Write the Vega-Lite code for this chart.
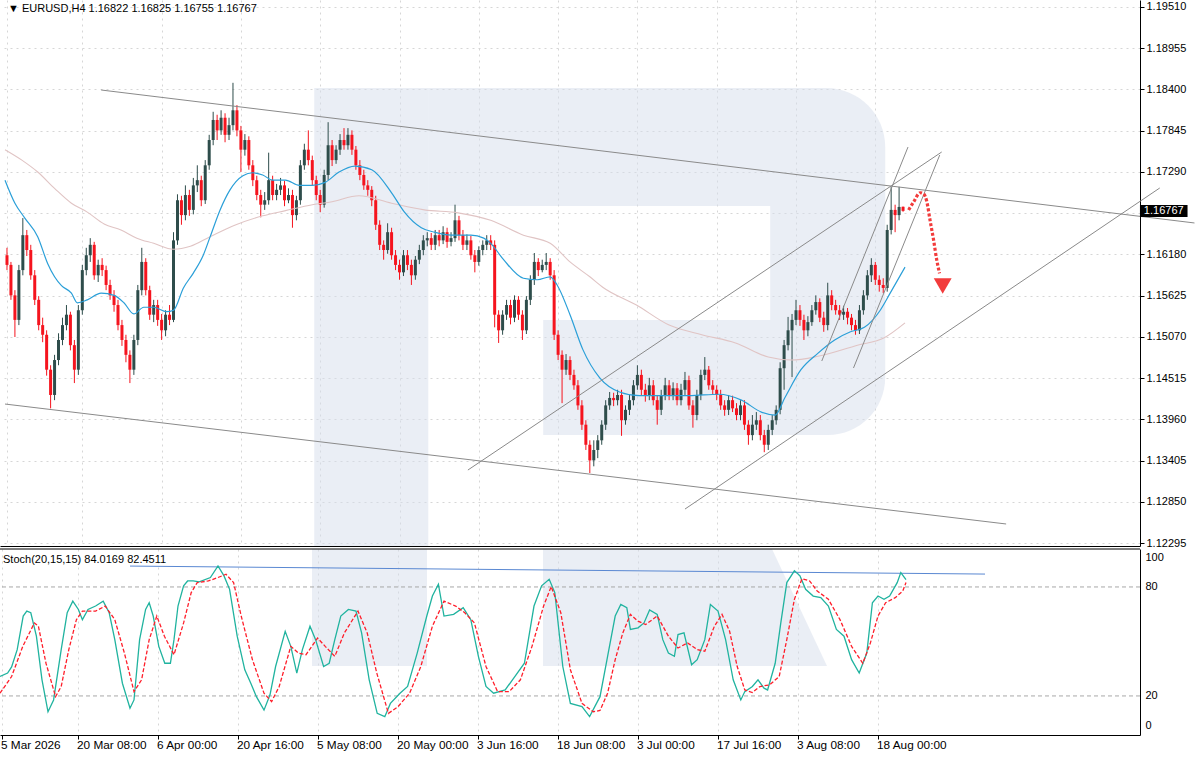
{
"$schema": "https://vega.github.io/schema/vega-lite/v6.json",
"padding": {"left": -3, "top": 0, "right": 0, "bottom": 0},
"background": "white",
"spacing": 3,
"bounds": "flush",
"config": {
  "view": {"stroke": null},
  "axis": {"labelFont": "Liberation Sans", "labelFontSize": 11, "labelColor": "#000000", "domainColor": "#000000", "tickColor": "#000000", "gridColor": "#d6d6d6", "gridDash": [2, 4], "gridWidth": 1}
},
"datasets": {
  "bars": [
{"i":0,"o":1.1617,"h":1.1627,"l":1.1597,"c":1.1604},
{"i":1,"o":1.1604,"h":1.1608,"l":1.1557,"c":1.1563},
{"i":2,"o":1.1563,"h":1.1570,"l":1.1507,"c":1.1530},
{"i":3,"o":1.1530,"h":1.1604,"l":1.1523,"c":1.1597},
{"i":4,"o":1.1597,"h":1.1667,"l":1.1590,"c":1.1644},
{"i":5,"o":1.1644,"h":1.1651,"l":1.1616,"c":1.1624},
{"i":6,"o":1.1624,"h":1.1631,"l":1.1584,"c":1.1590},
{"i":7,"o":1.1590,"h":1.1597,"l":1.1550,"c":1.1557},
{"i":8,"o":1.1557,"h":1.1562,"l":1.1516,"c":1.1523},
{"i":9,"o":1.1523,"h":1.1533,"l":1.1500,"c":1.1510},
{"i":10,"o":1.1510,"h":1.1516,"l":1.1455,"c":1.1463},
{"i":11,"o":1.1463,"h":1.1469,"l":1.1411,"c":1.1429},
{"i":12,"o":1.1429,"h":1.1483,"l":1.1422,"c":1.1476},
{"i":13,"o":1.1476,"h":1.1512,"l":1.1469,"c":1.1503},
{"i":14,"o":1.1503,"h":1.1533,"l":1.1496,"c":1.1523},
{"i":15,"o":1.1523,"h":1.1550,"l":1.1516,"c":1.1537},
{"i":16,"o":1.1537,"h":1.1541,"l":1.1489,"c":1.1496},
{"i":17,"o":1.1496,"h":1.1503,"l":1.1445,"c":1.1463},
{"i":18,"o":1.1463,"h":1.1550,"l":1.1456,"c":1.1543},
{"i":19,"o":1.1543,"h":1.1604,"l":1.1537,"c":1.1597},
{"i":20,"o":1.1597,"h":1.1627,"l":1.1590,"c":1.1617},
{"i":21,"o":1.1617,"h":1.1640,"l":1.1608,"c":1.1631},
{"i":22,"o":1.1631,"h":1.1635,"l":1.1584,"c":1.1590},
{"i":23,"o":1.1590,"h":1.1611,"l":1.1581,"c":1.1604},
{"i":24,"o":1.1604,"h":1.1613,"l":1.1589,"c":1.1597},
{"i":25,"o":1.1597,"h":1.1603,"l":1.1570,"c":1.1577},
{"i":26,"o":1.1577,"h":1.1584,"l":1.1557,"c":1.1563},
{"i":27,"o":1.1563,"h":1.1570,"l":1.1541,"c":1.1550},
{"i":28,"o":1.1550,"h":1.1557,"l":1.1516,"c":1.1523},
{"i":29,"o":1.1523,"h":1.1530,"l":1.1495,"c":1.1503},
{"i":30,"o":1.1503,"h":1.1510,"l":1.1473,"c":1.1483},
{"i":31,"o":1.1483,"h":1.1489,"l":1.1445,"c":1.1463},
{"i":32,"o":1.1463,"h":1.1510,"l":1.1456,"c":1.1503},
{"i":33,"o":1.1503,"h":1.1577,"l":1.1496,"c":1.1570},
{"i":34,"o":1.1570,"h":1.1627,"l":1.1563,"c":1.1608},
{"i":35,"o":1.1608,"h":1.1613,"l":1.1563,"c":1.1570},
{"i":36,"o":1.1570,"h":1.1576,"l":1.1530,"c":1.1537},
{"i":37,"o":1.1537,"h":1.1557,"l":1.1527,"c":1.1550},
{"i":38,"o":1.1550,"h":1.1557,"l":1.1522,"c":1.1530},
{"i":39,"o":1.1530,"h":1.1538,"l":1.1503,"c":1.1516},
{"i":40,"o":1.1516,"h":1.1543,"l":1.1508,"c":1.1537},
{"i":41,"o":1.1537,"h":1.1550,"l":1.1523,"c":1.1530},
{"i":42,"o":1.1530,"h":1.1648,"l":1.1527,"c":1.1637},
{"i":43,"o":1.1637,"h":1.1699,"l":1.1631,"c":1.1691},
{"i":44,"o":1.1691,"h":1.1697,"l":1.1658,"c":1.1671},
{"i":45,"o":1.1671,"h":1.1711,"l":1.1664,"c":1.1698},
{"i":46,"o":1.1698,"h":1.1705,"l":1.1670,"c":1.1678},
{"i":47,"o":1.1678,"h":1.1721,"l":1.1672,"c":1.1711},
{"i":48,"o":1.1711,"h":1.1738,"l":1.1702,"c":1.1718},
{"i":49,"o":1.1718,"h":1.1724,"l":1.1683,"c":1.1691},
{"i":50,"o":1.1691,"h":1.1745,"l":1.1686,"c":1.1738},
{"i":51,"o":1.1738,"h":1.1779,"l":1.1732,"c":1.1772},
{"i":52,"o":1.1772,"h":1.1810,"l":1.1765,"c":1.1799},
{"i":53,"o":1.1799,"h":1.1806,"l":1.1772,"c":1.1785},
{"i":54,"o":1.1785,"h":1.1812,"l":1.1779,"c":1.1802},
{"i":55,"o":1.1802,"h":1.1808,"l":1.1769,"c":1.1779},
{"i":56,"o":1.1779,"h":1.1802,"l":1.1772,"c":1.1792},
{"i":57,"o":1.1792,"h":1.1849,"l":1.1785,"c":1.1812},
{"i":58,"o":1.1812,"h":1.1819,"l":1.1777,"c":1.1785},
{"i":59,"o":1.1785,"h":1.1791,"l":1.1729,"c":1.1759},
{"i":60,"o":1.1759,"h":1.1780,"l":1.1751,"c":1.1772},
{"i":61,"o":1.1772,"h":1.1777,"l":1.1732,"c":1.1738},
{"i":62,"o":1.1738,"h":1.1745,"l":1.1710,"c":1.1718},
{"i":63,"o":1.1718,"h":1.1724,"l":1.1691,"c":1.1698},
{"i":64,"o":1.1698,"h":1.1705,"l":1.1668,"c":1.1685},
{"i":65,"o":1.1685,"h":1.1702,"l":1.1678,"c":1.1691},
{"i":66,"o":1.1691,"h":1.1755,"l":1.1685,"c":1.1718},
{"i":67,"o":1.1718,"h":1.1724,"l":1.1691,"c":1.1698},
{"i":68,"o":1.1698,"h":1.1713,"l":1.1691,"c":1.1705},
{"i":69,"o":1.1705,"h":1.1721,"l":1.1698,"c":1.1711},
{"i":70,"o":1.1711,"h":1.1717,"l":1.1683,"c":1.1691},
{"i":71,"o":1.1691,"h":1.1707,"l":1.1687,"c":1.1698},
{"i":72,"o":1.1698,"h":1.1705,"l":1.1654,"c":1.1671},
{"i":73,"o":1.1671,"h":1.1697,"l":1.1664,"c":1.1691},
{"i":74,"o":1.1691,"h":1.1745,"l":1.1685,"c":1.1738},
{"i":75,"o":1.1738,"h":1.1767,"l":1.1732,"c":1.1759},
{"i":76,"o":1.1759,"h":1.1785,"l":1.1738,"c":1.1745},
{"i":77,"o":1.1745,"h":1.1751,"l":1.1711,"c":1.1718},
{"i":78,"o":1.1718,"h":1.1724,"l":1.1691,"c":1.1698},
{"i":79,"o":1.1698,"h":1.1705,"l":1.1675,"c":1.1685},
{"i":80,"o":1.1685,"h":1.1732,"l":1.1681,"c":1.1725},
{"i":81,"o":1.1725,"h":1.1796,"l":1.1718,"c":1.1765},
{"i":82,"o":1.1765,"h":1.1772,"l":1.1737,"c":1.1745},
{"i":83,"o":1.1745,"h":1.1765,"l":1.1740,"c":1.1759},
{"i":84,"o":1.1759,"h":1.1780,"l":1.1752,"c":1.1772},
{"i":85,"o":1.1772,"h":1.1788,"l":1.1759,"c":1.1765},
{"i":86,"o":1.1765,"h":1.1788,"l":1.1759,"c":1.1779},
{"i":87,"o":1.1779,"h":1.1785,"l":1.1752,"c":1.1759},
{"i":88,"o":1.1759,"h":1.1764,"l":1.1732,"c":1.1738},
{"i":89,"o":1.1738,"h":1.1745,"l":1.1718,"c":1.1725},
{"i":90,"o":1.1725,"h":1.1732,"l":1.1705,"c":1.1711},
{"i":91,"o":1.1711,"h":1.1718,"l":1.1697,"c":1.1705},
{"i":92,"o":1.1705,"h":1.1710,"l":1.1683,"c":1.1691},
{"i":93,"o":1.1691,"h":1.1697,"l":1.1651,"c":1.1658},
{"i":94,"o":1.1658,"h":1.1664,"l":1.1624,"c":1.1631},
{"i":95,"o":1.1631,"h":1.1637,"l":1.1611,"c":1.1624},
{"i":96,"o":1.1624,"h":1.1660,"l":1.1619,"c":1.1648},
{"i":97,"o":1.1648,"h":1.1654,"l":1.1611,"c":1.1617},
{"i":98,"o":1.1617,"h":1.1624,"l":1.1597,"c":1.1604},
{"i":99,"o":1.1604,"h":1.1611,"l":1.1584,"c":1.1594},
{"i":100,"o":1.1594,"h":1.1624,"l":1.1589,"c":1.1617},
{"i":101,"o":1.1617,"h":1.1624,"l":1.1597,"c":1.1604},
{"i":102,"o":1.1604,"h":1.1611,"l":1.1577,"c":1.1590},
{"i":103,"o":1.1590,"h":1.1616,"l":1.1584,"c":1.1611},
{"i":104,"o":1.1611,"h":1.1631,"l":1.1605,"c":1.1624},
{"i":105,"o":1.1624,"h":1.1644,"l":1.1617,"c":1.1637},
{"i":106,"o":1.1637,"h":1.1648,"l":1.1629,"c":1.1640},
{"i":107,"o":1.1640,"h":1.1647,"l":1.1624,"c":1.1631},
{"i":108,"o":1.1631,"h":1.1651,"l":1.1624,"c":1.1644},
{"i":109,"o":1.1644,"h":1.1651,"l":1.1629,"c":1.1637},
{"i":110,"o":1.1637,"h":1.1656,"l":1.1632,"c":1.1648},
{"i":111,"o":1.1648,"h":1.1654,"l":1.1627,"c":1.1635},
{"i":112,"o":1.1635,"h":1.1648,"l":1.1629,"c":1.1640},
{"i":113,"o":1.1640,"h":1.1685,"l":1.1635,"c":1.1664},
{"i":114,"o":1.1664,"h":1.1670,"l":1.1637,"c":1.1644},
{"i":115,"o":1.1644,"h":1.1651,"l":1.1624,"c":1.1631},
{"i":116,"o":1.1631,"h":1.1645,"l":1.1624,"c":1.1637},
{"i":117,"o":1.1637,"h":1.1643,"l":1.1611,"c":1.1617},
{"i":118,"o":1.1617,"h":1.1624,"l":1.1594,"c":1.1608},
{"i":119,"o":1.1608,"h":1.1629,"l":1.1603,"c":1.1624},
{"i":120,"o":1.1624,"h":1.1637,"l":1.1617,"c":1.1631},
{"i":121,"o":1.1631,"h":1.1644,"l":1.1624,"c":1.1637},
{"i":122,"o":1.1637,"h":1.1644,"l":1.1624,"c":1.1631},
{"i":123,"o":1.1631,"h":1.1637,"l":1.1520,"c":1.1537},
{"i":124,"o":1.1537,"h":1.1543,"l":1.1499,"c":1.1516},
{"i":125,"o":1.1516,"h":1.1543,"l":1.1510,"c":1.1537},
{"i":126,"o":1.1537,"h":1.1557,"l":1.1530,"c":1.1550},
{"i":127,"o":1.1550,"h":1.1557,"l":1.1524,"c":1.1533},
{"i":128,"o":1.1533,"h":1.1563,"l":1.1527,"c":1.1557},
{"i":129,"o":1.1557,"h":1.1562,"l":1.1530,"c":1.1537},
{"i":130,"o":1.1537,"h":1.1543,"l":1.1503,"c":1.1516},
{"i":131,"o":1.1516,"h":1.1562,"l":1.1511,"c":1.1557},
{"i":132,"o":1.1557,"h":1.1590,"l":1.1550,"c":1.1584},
{"i":133,"o":1.1584,"h":1.1620,"l":1.1577,"c":1.1608},
{"i":134,"o":1.1608,"h":1.1613,"l":1.1589,"c":1.1597},
{"i":135,"o":1.1597,"h":1.1611,"l":1.1594,"c":1.1604},
{"i":136,"o":1.1604,"h":1.1620,"l":1.1597,"c":1.1608},
{"i":137,"o":1.1608,"h":1.1613,"l":1.1584,"c":1.1590},
{"i":138,"o":1.1590,"h":1.1597,"l":1.1503,"c":1.1510},
{"i":139,"o":1.1510,"h":1.1516,"l":1.1476,"c":1.1483},
{"i":140,"o":1.1483,"h":1.1489,"l":1.1418,"c":1.1463},
{"i":141,"o":1.1463,"h":1.1484,"l":1.1456,"c":1.1476},
{"i":142,"o":1.1476,"h":1.1481,"l":1.1449,"c":1.1456},
{"i":143,"o":1.1456,"h":1.1463,"l":1.1436,"c":1.1442},
{"i":144,"o":1.1442,"h":1.1449,"l":1.1409,"c":1.1415},
{"i":145,"o":1.1415,"h":1.1422,"l":1.1382,"c":1.1389},
{"i":146,"o":1.1389,"h":1.1395,"l":1.1355,"c":1.1362},
{"i":147,"o":1.1362,"h":1.1368,"l":1.1324,"c":1.1341},
{"i":148,"o":1.1341,"h":1.1368,"l":1.1333,"c":1.1355},
{"i":149,"o":1.1355,"h":1.1375,"l":1.1344,"c":1.1368},
{"i":150,"o":1.1368,"h":1.1395,"l":1.1362,"c":1.1389},
{"i":151,"o":1.1389,"h":1.1422,"l":1.1382,"c":1.1415},
{"i":152,"o":1.1415,"h":1.1433,"l":1.1409,"c":1.1425},
{"i":153,"o":1.1425,"h":1.1432,"l":1.1414,"c":1.1422},
{"i":154,"o":1.1422,"h":1.1436,"l":1.1415,"c":1.1429},
{"i":155,"o":1.1429,"h":1.1436,"l":1.1374,"c":1.1395},
{"i":156,"o":1.1395,"h":1.1415,"l":1.1389,"c":1.1409},
{"i":157,"o":1.1409,"h":1.1429,"l":1.1402,"c":1.1422},
{"i":158,"o":1.1422,"h":1.1449,"l":1.1415,"c":1.1442},
{"i":159,"o":1.1442,"h":1.1469,"l":1.1436,"c":1.1456},
{"i":160,"o":1.1456,"h":1.1463,"l":1.1429,"c":1.1436},
{"i":161,"o":1.1436,"h":1.1444,"l":1.1420,"c":1.1429},
{"i":162,"o":1.1429,"h":1.1452,"l":1.1422,"c":1.1442},
{"i":163,"o":1.1442,"h":1.1449,"l":1.1415,"c":1.1422},
{"i":164,"o":1.1422,"h":1.1429,"l":1.1389,"c":1.1409},
{"i":165,"o":1.1409,"h":1.1436,"l":1.1402,"c":1.1429},
{"i":166,"o":1.1429,"h":1.1452,"l":1.1422,"c":1.1442},
{"i":167,"o":1.1442,"h":1.1449,"l":1.1422,"c":1.1429},
{"i":168,"o":1.1429,"h":1.1446,"l":1.1422,"c":1.1438},
{"i":169,"o":1.1438,"h":1.1445,"l":1.1415,"c":1.1422},
{"i":170,"o":1.1422,"h":1.1444,"l":1.1415,"c":1.1436},
{"i":171,"o":1.1436,"h":1.1460,"l":1.1429,"c":1.1449},
{"i":172,"o":1.1449,"h":1.1455,"l":1.1409,"c":1.1415},
{"i":173,"o":1.1415,"h":1.1422,"l":1.1385,"c":1.1402},
{"i":174,"o":1.1402,"h":1.1436,"l":1.1395,"c":1.1429},
{"i":175,"o":1.1429,"h":1.1463,"l":1.1422,"c":1.1456},
{"i":176,"o":1.1456,"h":1.1480,"l":1.1449,"c":1.1463},
{"i":177,"o":1.1463,"h":1.1468,"l":1.1436,"c":1.1442},
{"i":178,"o":1.1442,"h":1.1449,"l":1.1429,"c":1.1436},
{"i":179,"o":1.1436,"h":1.1442,"l":1.1422,"c":1.1429},
{"i":180,"o":1.1429,"h":1.1436,"l":1.1409,"c":1.1415},
{"i":181,"o":1.1415,"h":1.1422,"l":1.1401,"c":1.1409},
{"i":182,"o":1.1409,"h":1.1429,"l":1.1402,"c":1.1422},
{"i":183,"o":1.1422,"h":1.1428,"l":1.1406,"c":1.1411},
{"i":184,"o":1.1411,"h":1.1418,"l":1.1395,"c":1.1402},
{"i":185,"o":1.1402,"h":1.1422,"l":1.1395,"c":1.1415},
{"i":186,"o":1.1415,"h":1.1422,"l":1.1382,"c":1.1389},
{"i":187,"o":1.1389,"h":1.1395,"l":1.1362,"c":1.1375},
{"i":188,"o":1.1375,"h":1.1402,"l":1.1368,"c":1.1389},
{"i":189,"o":1.1389,"h":1.1406,"l":1.1382,"c":1.1395},
{"i":190,"o":1.1395,"h":1.1402,"l":1.1368,"c":1.1375},
{"i":191,"o":1.1375,"h":1.1382,"l":1.1352,"c":1.1362},
{"i":192,"o":1.1362,"h":1.1389,"l":1.1355,"c":1.1382},
{"i":193,"o":1.1382,"h":1.1402,"l":1.1375,"c":1.1395},
{"i":194,"o":1.1395,"h":1.1415,"l":1.1389,"c":1.1409},
{"i":195,"o":1.1409,"h":1.1473,"l":1.1403,"c":1.1465},
{"i":196,"o":1.1465,"h":1.1503,"l":1.1436,"c":1.1496},
{"i":197,"o":1.1496,"h":1.1534,"l":1.1489,"c":1.1516},
{"i":198,"o":1.1516,"h":1.1538,"l":1.1453,"c":1.1530},
{"i":199,"o":1.1530,"h":1.1557,"l":1.1523,"c":1.1543},
{"i":200,"o":1.1543,"h":1.1550,"l":1.1522,"c":1.1530},
{"i":201,"o":1.1530,"h":1.1537,"l":1.1503,"c":1.1516},
{"i":202,"o":1.1516,"h":1.1535,"l":1.1508,"c":1.1527},
{"i":203,"o":1.1527,"h":1.1550,"l":1.1522,"c":1.1543},
{"i":204,"o":1.1543,"h":1.1563,"l":1.1537,"c":1.1554},
{"i":205,"o":1.1554,"h":1.1559,"l":1.1527,"c":1.1533},
{"i":206,"o":1.1533,"h":1.1541,"l":1.1514,"c":1.1523},
{"i":207,"o":1.1523,"h":1.1580,"l":1.1516,"c":1.1563},
{"i":208,"o":1.1563,"h":1.1570,"l":1.1543,"c":1.1550},
{"i":209,"o":1.1550,"h":1.1557,"l":1.1537,"c":1.1543},
{"i":210,"o":1.1543,"h":1.1550,"l":1.1530,"c":1.1537},
{"i":211,"o":1.1537,"h":1.1549,"l":1.1530,"c":1.1541},
{"i":212,"o":1.1541,"h":1.1546,"l":1.1524,"c":1.1533},
{"i":213,"o":1.1533,"h":1.1538,"l":1.1516,"c":1.1523},
{"i":214,"o":1.1523,"h":1.1530,"l":1.1510,"c":1.1516},
{"i":215,"o":1.1516,"h":1.1550,"l":1.1511,"c":1.1543},
{"i":216,"o":1.1543,"h":1.1570,"l":1.1537,"c":1.1563},
{"i":217,"o":1.1563,"h":1.1597,"l":1.1557,"c":1.1590},
{"i":218,"o":1.1590,"h":1.1613,"l":1.1581,"c":1.1604},
{"i":219,"o":1.1604,"h":1.1608,"l":1.1577,"c":1.1584},
{"i":220,"o":1.1584,"h":1.1590,"l":1.1568,"c":1.1577},
{"i":221,"o":1.1577,"h":1.1586,"l":1.1566,"c":1.1573},
{"i":222,"o":1.1573,"h":1.1658,"l":1.1568,"c":1.1651},
{"i":223,"o":1.1651,"h":1.1709,"l":1.1645,"c":1.1678},
{"i":224,"o":1.1678,"h":1.1685,"l":1.1648,"c":1.1671},
{"i":225,"o":1.1671,"h":1.1709,"l":1.1664,"c":1.1682},
{"i":226,"o":1.16822,"h":1.16825,"l":1.16755,"c":1.16767}
  ],
  "ma50": [
{"i":-0.5,"p":1.1718},{"i":2,"p":1.1687},{"i":4.5,"p":1.1667},{"i":7.75,"p":1.1642},{"i":10.25,"p":1.1606},{"i":12,"p":1.1588},{"i":13.75,"p":1.1576},{"i":16.25,"p":1.1566},{"i":17.75,"p":1.1553},{"i":20.25,"p":1.1557},{"i":23.75,"p":1.1566},{"i":27,"p":1.1563},{"i":29.5,"p":1.1553},{"i":32,"p":1.1538},{"i":34.5,"p":1.1547},{"i":37,"p":1.1547},{"i":40.25,"p":1.1541},{"i":42,"p":1.1543},{"i":44.5,"p":1.1573},{"i":47,"p":1.1593},{"i":49.5,"p":1.1617},{"i":51.25,"p":1.1642},{"i":53.75,"p":1.1678},{"i":56.25,"p":1.1705},{"i":59.5,"p":1.1724},{"i":62,"p":1.1728},{"i":64.5,"p":1.1725},{"i":67,"p":1.1718},{"i":70.25,"p":1.1718},{"i":73.75,"p":1.1711},{"i":77,"p":1.1711},{"i":80.25,"p":1.1715},{"i":83.75,"p":1.1729},{"i":87.75,"p":1.1737},{"i":92,"p":1.1732},{"i":97,"p":1.1701},{"i":100.25,"p":1.1675},{"i":104.5,"p":1.1654},{"i":107.75,"p":1.1648},{"i":112,"p":1.1644},{"i":117,"p":1.1644},{"i":120.25,"p":1.1640},{"i":122,"p":1.1633},{"i":125.25,"p":1.1611},{"i":130.25,"p":1.1586},{"i":133.75,"p":1.1584},{"i":137,"p":1.1588},{"i":138.75,"p":1.1577},{"i":142,"p":1.1537},{"i":145.25,"p":1.1490},{"i":149.5,"p":1.1452},{"i":154.5,"p":1.1433},{"i":159.5,"p":1.1428},{"i":164.5,"p":1.1428},{"i":172,"p":1.1428},{"i":179.5,"p":1.1430},{"i":185.25,"p":1.1422},{"i":190.25,"p":1.1406},{"i":193.75,"p":1.1402},{"i":196.25,"p":1.1426},{"i":200.25,"p":1.1463},{"i":204.5,"p":1.1485},{"i":208.75,"p":1.1503},{"i":212.75,"p":1.1514},{"i":216.25,"p":1.1520},{"i":220.25,"p":1.1543},{"i":222.75,"p":1.1566},{"i":226.5,"p":1.1601}
  ],
  "ma200": [
{"i":-0.5,"p":1.1759},{"i":3.75,"p":1.1745},{"i":7.75,"p":1.1729},{"i":12,"p":1.1707},{"i":16.25,"p":1.1687},{"i":20.25,"p":1.1675},{"i":24.5,"p":1.1659},{"i":28.75,"p":1.1651},{"i":32.75,"p":1.1640},{"i":37,"p":1.1633},{"i":42,"p":1.1625},{"i":46.25,"p":1.1629},{"i":51.25,"p":1.1642},{"i":57.75,"p":1.1658},{"i":64.5,"p":1.1670},{"i":70.25,"p":1.1677},{"i":77,"p":1.1685},{"i":82,"p":1.1689},{"i":88.75,"p":1.1697},{"i":97,"p":1.1687},{"i":105.25,"p":1.1678},{"i":113.75,"p":1.1674},{"i":122,"p":1.1664},{"i":130.25,"p":1.1644},{"i":137,"p":1.1633},{"i":142,"p":1.1608},{"i":147,"p":1.1588},{"i":150.25,"p":1.1574},{"i":158.75,"p":1.1550},{"i":167,"p":1.1523},{"i":175.25,"p":1.1510},{"i":183.75,"p":1.1499},{"i":192,"p":1.1480},{"i":197.75,"p":1.1476},{"i":204.5,"p":1.1481},{"i":214.5,"p":1.1496},{"i":221.25,"p":1.1506},{"i":226.5,"p":1.1526}
  ],
  "trend": [
{"i":23.75,"p":1.18393,"i2":299.5,"p2":1.16604},
{"i":-0.5,"p":1.14168,"i2":252,"p2":1.12554},
{"i":171,"p":1.12755,"i2":290.75,"p2":1.17075},
{"i":116.25,"p":1.1328,"i2":235.75,"p2":1.17559},
{"i":205.5,"p":1.14747,"i2":227.25,"p2":1.17626},
{"i":213.5,"p":1.14653,"i2":235.25,"p2":1.17518}
  ],
  "arrow": [
{"i":227.4,"p":1.16778},{"i":228.7,"p":1.1689},{"i":230.3,"p":1.17011},{"i":231.2,"p":1.16994},{"i":232,"p":1.1689},{"i":232.8,"p":1.16644},{"i":233.7,"p":1.16375},{"i":234.5,"p":1.16106},{"i":235.2,"p":1.15927}
  ],
  "stochK": [
{"i":-0.5,"v":30.7},{"i":1.4,"v":32.6},{"i":2.4,"v":36},{"i":3.8,"v":45.5},{"i":5.3,"v":64},{"i":6.2,"v":66.7},{"i":7.2,"v":65.8},{"i":8.6,"v":52.9},{"i":10,"v":28.9},{"i":11.5,"v":11.3},{"i":12.9,"v":17.8},{"i":14.8,"v":45.5},{"i":16.3,"v":65.8},{"i":17.7,"v":72.2},{"i":19.1,"v":67.6},{"i":20.1,"v":62},{"i":21.5,"v":67.6},{"i":23.4,"v":69.5},{"i":25.3,"v":72.2},{"i":26.8,"v":65.8},{"i":28.2,"v":51},{"i":30.1,"v":27},{"i":32,"v":13.2},{"i":33,"v":17.8},{"i":34.4,"v":51},{"i":35.9,"v":67.6},{"i":36.8,"v":71.3},{"i":37.8,"v":64},{"i":39.2,"v":47.3},{"i":40.7,"v":38},{"i":42.1,"v":38},{"i":43,"v":51},{"i":44,"v":69.5},{"i":45.4,"v":80.6},{"i":46.4,"v":83.3},{"i":47.8,"v":83.3},{"i":49.3,"v":82.8},{"i":52.1,"v":85.2},{"i":54,"v":91.6},{"i":55.5,"v":86.1},{"i":56.9,"v":78.7},{"i":58.8,"v":52.9},{"i":60.7,"v":34.4},{"i":62.2,"v":27},{"i":63.6,"v":19.6},{"i":65.5,"v":12.2},{"i":67,"v":20.6},{"i":68.4,"v":36.2},{"i":70.8,"v":55.6},{"i":72.2,"v":47.3},{"i":73.7,"v":32.6},{"i":75.1,"v":45.5},{"i":77,"v":58.4},{"i":78.4,"v":51},{"i":80.4,"v":36.2},{"i":81.8,"v":38},{"i":83.2,"v":51},{"i":84.7,"v":64},{"i":86.6,"v":67.6},{"i":88.5,"v":66.7},{"i":89.9,"v":54.7},{"i":91.8,"v":28.9},{"i":93.8,"v":10.4},{"i":95.7,"v":8.6},{"i":97.1,"v":15.9},{"i":99.5,"v":21.5},{"i":101.4,"v":25.2},{"i":103.8,"v":43.6},{"i":106.2,"v":64},{"i":107.6,"v":75},{"i":109.1,"v":81.5},{"i":110.5,"v":64},{"i":112.9,"v":64.9},{"i":115.3,"v":68.6},{"i":117.2,"v":62},{"i":119.1,"v":41.8},{"i":121,"v":25.2},{"i":122.9,"v":21.5},{"i":125.8,"v":23.3},{"i":128.2,"v":30.7},{"i":130.6,"v":38},{"i":133,"v":69.5},{"i":134.9,"v":80.6},{"i":136.8,"v":84.2},{"i":138.2,"v":76.9},{"i":140.2,"v":36.2},{"i":142.1,"v":15.9},{"i":145,"v":14.1},{"i":146.9,"v":8.6},{"i":149.5,"v":19.6},{"i":151.4,"v":41.8},{"i":153.3,"v":64},{"i":154.7,"v":70.4},{"i":156.2,"v":68.6},{"i":157.1,"v":56.6},{"i":159,"v":57.5},{"i":160.5,"v":60.2},{"i":161.9,"v":67.3},{"i":163.8,"v":64.9},{"i":165.2,"v":51},{"i":166.6,"v":43.6},{"i":168.1,"v":41.8},{"i":169,"v":53.8},{"i":170.5,"v":54.7},{"i":172.4,"v":37.2},{"i":173.8,"v":40},{"i":175.7,"v":51},{"i":177.1,"v":70.4},{"i":179,"v":66.7},{"i":180.9,"v":51},{"i":182.8,"v":28.9},{"i":184.7,"v":17.8},{"i":185.7,"v":22.4},{"i":187.6,"v":25.2},{"i":189,"v":28.9},{"i":190.5,"v":24.3},{"i":191.4,"v":23.3},{"i":193.3,"v":38},{"i":194.7,"v":60.2},{"i":196.2,"v":82.4},{"i":198.1,"v":88.9},{"i":199.5,"v":86.1},{"i":200.9,"v":78.7},{"i":202.8,"v":75},{"i":204.7,"v":74.1},{"i":206.6,"v":69.5},{"i":208.6,"v":56.6},{"i":210.5,"v":52.9},{"i":212.4,"v":40},{"i":214.3,"v":32.6},{"i":216.2,"v":43.6},{"i":217.6,"v":71.3},{"i":219,"v":75},{"i":220.5,"v":73.2},{"i":221.9,"v":75},{"i":223.8,"v":82.4},{"i":224.7,"v":87.9},{"i":226,"v":84.02}
  ],
  "stochD": [
{"i":-0.5,"v":21.5},{"i":2.4,"v":30.7},{"i":5.2,"v":47.3},{"i":8.1,"v":60.2},{"i":9.1,"v":58.4},{"i":11,"v":38},{"i":13.4,"v":19.6},{"i":14.8,"v":25.2},{"i":16.7,"v":45.5},{"i":18.6,"v":62},{"i":20.1,"v":66.7},{"i":23.4,"v":66.7},{"i":25.8,"v":69.5},{"i":28.2,"v":62},{"i":30.6,"v":43.6},{"i":33,"v":22.4},{"i":34.9,"v":28.9},{"i":36.8,"v":51},{"i":38.7,"v":64},{"i":40.6,"v":52.9},{"i":43,"v":42.7},{"i":45.4,"v":60.2},{"i":47.3,"v":76.9},{"i":48.8,"v":82.4},{"i":51.6,"v":83.3},{"i":54,"v":85.2},{"i":56,"v":87},{"i":57.9,"v":82.4},{"i":59.8,"v":64},{"i":62.6,"v":40},{"i":65.5,"v":21.5},{"i":67.4,"v":16.9},{"i":69.3,"v":25.2},{"i":72.2,"v":47.3},{"i":74.1,"v":43.6},{"i":76,"v":42.7},{"i":78.9,"v":51.9},{"i":80.8,"v":47.3},{"i":83.2,"v":41.8},{"i":85.6,"v":54.7},{"i":89,"v":66.7},{"i":91.3,"v":54.7},{"i":93.7,"v":32.6},{"i":96.6,"v":10.4},{"i":99,"v":14.1},{"i":101.9,"v":21.5},{"i":104.7,"v":36.2},{"i":107.6,"v":58.4},{"i":110.5,"v":72.2},{"i":113.4,"v":69.5},{"i":115.7,"v":65.8},{"i":118.1,"v":60.2},{"i":121,"v":36.2},{"i":123.9,"v":22.4},{"i":126.8,"v":22.4},{"i":129.6,"v":28.9},{"i":132.5,"v":47.3},{"i":135.4,"v":69.5},{"i":137.3,"v":80.2},{"i":139.7,"v":65.8},{"i":142.1,"v":34.4},{"i":145,"v":15.9},{"i":147.8,"v":11.3},{"i":149.5,"v":12},{"i":151.4,"v":21.5},{"i":153.3,"v":40},{"i":155.2,"v":54.7},{"i":157.1,"v":64.9},{"i":159,"v":61.2},{"i":160.9,"v":59.3},{"i":163.8,"v":64},{"i":166.6,"v":52.9},{"i":169,"v":46.4},{"i":171.4,"v":49.2},{"i":173.8,"v":45.5},{"i":175.7,"v":44.6},{"i":178.1,"v":58.4},{"i":180,"v":64.9},{"i":181.9,"v":55.6},{"i":183.8,"v":36.2},{"i":185.7,"v":23.3},{"i":187.6,"v":21.9},{"i":189.5,"v":25.2},{"i":191.9,"v":26.1},{"i":194.3,"v":30.7},{"i":196.2,"v":51},{"i":198.1,"v":73.2},{"i":200,"v":84.6},{"i":201.9,"v":83.3},{"i":203.8,"v":77.8},{"i":206.6,"v":73.2},{"i":209.5,"v":62},{"i":212.4,"v":47.3},{"i":215.2,"v":38},{"i":217.1,"v":49.2},{"i":219,"v":64},{"i":220.9,"v":71.3},{"i":223.3,"v":74.1},{"i":225.2,"v":77.8},{"i":226,"v":82.45}
  ],
  "levels": [{"lvl": 80}, {"lvl": 20}]
},
"vconcat": [
 {
  "width": 1140,
  "height": 546,
  "layer": [
   {
    "data": {"values": [{}]},
    "mark": {"type": "rect", "color": "#d5ddeb", "opacity": 0.5},
    "encoding": {
      "x": {"datum": 77.5, "type": "quantitative", "title": null, "scale": {"domain": [-0.5, 284.5], "nice": false, "zero": false},
        "axis": {"orient": "bottom", "values": [0, 19, 39, 59, 79, 99, 119, 139, 159, 179, 199, 219], "labels": false, "ticks": false, "domain": true, "grid": true, "title": null}},
      "x2": {"datum": 106.25},
      "y": {"datum": 1.1842, "type": "quantitative", "title": null, "scale": {"domain": [1.12258, 1.19604], "nice": false, "zero": false},
        "axis": {"orient": "right", "values": [1.12295, 1.1285, 1.13405, 1.1396, 1.14515, 1.1507, 1.15625, 1.1618, 1.16735, 1.1729, 1.17845, 1.184, 1.18955, 1.1951], "labelExpr": "abs(datum.value - 1.16735) < 0.00001 ? '' : format(datum.value, '.5f')", "tickSize": 4, "labelPadding": 2, "grid": true, "domain": true, "labelOverlap": false, "labelFlush": false, "title": null}},
      "y2": {"datum": 1.12258}
    }
   },
   {
    "data": {"values": [{}]},
    "mark": {"type": "rect", "color": "#d5ddeb", "opacity": 0.5, "cornerRadiusTopRight": 105},
    "encoding": {
      "x": {"datum": 106.25, "type": "quantitative", "scale": {"domain": [-0.5, 284.5], "nice": false, "zero": false}},
      "x2": {"datum": 221.5},
      "y": {"datum": 1.1842, "type": "quantitative", "scale": {"domain": [1.12258, 1.19604], "nice": false, "zero": false}},
      "y2": {"datum": 1.16832}
    }
   },
   {
    "data": {"values": [{}]},
    "mark": {"type": "rect", "color": "#d5ddeb", "opacity": 0.5},
    "encoding": {
      "x": {"datum": 192.5, "type": "quantitative", "scale": {"domain": [-0.5, 284.5], "nice": false, "zero": false}},
      "x2": {"datum": 221.5},
      "y": {"datum": 1.16832, "type": "quantitative", "scale": {"domain": [1.12258, 1.19604], "nice": false, "zero": false}},
      "y2": {"datum": 1.15298}
    }
   },
   {
    "data": {"values": [{}]},
    "mark": {"type": "rect", "color": "#d5ddeb", "opacity": 0.5, "cornerRadiusBottomRight": 105},
    "encoding": {
      "x": {"datum": 135.25, "type": "quantitative", "scale": {"domain": [-0.5, 284.5], "nice": false, "zero": false}},
      "x2": {"datum": 221.5},
      "y": {"datum": 1.15298, "type": "quantitative", "scale": {"domain": [1.12258, 1.19604], "nice": false, "zero": false}},
      "y2": {"datum": 1.13751}
    }
   },
   {
    "data": {"name": "bars"},
    "mark": {"type": "rule", "strokeWidth": 1},
    "encoding": {
      "x": {"field": "i", "type": "quantitative", "title": null, "scale": {"domain": [-0.5, 284.5], "nice": false, "zero": false}},
      "y": {"field": "l", "type": "quantitative", "title": null, "scale": {"domain": [1.12258, 1.19604], "nice": false, "zero": false}},
      "y2": {"field": "h"},
      "color": {"condition": {"test": "datum.c >= datum.o", "value": "#2e4d4b"}, "value": "#f5141e"}
    }
   },
   {
    "data": {"name": "bars"},
    "mark": {"type": "bar", "width": 3},
    "encoding": {
      "x": {"field": "i", "type": "quantitative", "title": null, "scale": {"domain": [-0.5, 284.5], "nice": false, "zero": false}},
      "y": {"field": "o", "type": "quantitative", "title": null, "scale": {"domain": [1.12258, 1.19604], "nice": false, "zero": false}},
      "y2": {"field": "c"},
      "color": {"condition": {"test": "datum.c >= datum.o", "value": "#2e4d4b"}, "value": "#f5141e"}
    }
   },
   {
    "data": {"name": "ma200"},
    "mark": {"type": "line", "color": "#e0c4c4", "strokeWidth": 1.1, "interpolate": "monotone"},
    "encoding": {
      "x": {"field": "i", "type": "quantitative", "title": null, "scale": {"domain": [-0.5, 284.5], "nice": false, "zero": false}},
      "y": {"field": "p", "type": "quantitative", "title": null, "scale": {"domain": [1.12258, 1.19604], "nice": false, "zero": false}}
    }
   },
   {
    "data": {"name": "ma50"},
    "mark": {"type": "line", "color": "#2a9fd8", "strokeWidth": 1.2, "interpolate": "monotone"},
    "encoding": {
      "x": {"field": "i", "type": "quantitative", "title": null, "scale": {"domain": [-0.5, 284.5], "nice": false, "zero": false}},
      "y": {"field": "p", "type": "quantitative", "title": null, "scale": {"domain": [1.12258, 1.19604], "nice": false, "zero": false}}
    }
   },
   {
    "data": {"name": "trend"},
    "mark": {"type": "rule", "color": "#8a8a8a", "strokeWidth": 1},
    "encoding": {
      "x": {"field": "i", "type": "quantitative", "title": null, "scale": {"domain": [-0.5, 284.5], "nice": false, "zero": false}},
      "x2": {"field": "i2"},
      "y": {"field": "p", "type": "quantitative", "title": null, "scale": {"domain": [1.12258, 1.19604], "nice": false, "zero": false}},
      "y2": {"field": "p2"}
    }
   },
   {
    "data": {"name": "arrow"},
    "mark": {"type": "line", "color": "#f23b3b", "strokeWidth": 3.2, "strokeDash": [3, 2], "interpolate": "monotone"},
    "encoding": {
      "x": {"field": "i", "type": "quantitative", "title": null, "scale": {"domain": [-0.5, 284.5], "nice": false, "zero": false}},
      "y": {"field": "p", "type": "quantitative", "title": null, "scale": {"domain": [1.12258, 1.19604], "nice": false, "zero": false}}
    }
   },
   {
    "data": {"values": [{}]},
    "mark": {"type": "point", "shape": "triangle-down", "filled": true, "size": 320, "color": "#f23b3b", "opacity": 1},
    "encoding": {
      "x": {"datum": 236, "type": "quantitative", "scale": {"domain": [-0.5, 284.5], "nice": false, "zero": false}},
      "y": {"datum": 1.15756, "type": "quantitative", "scale": {"domain": [1.12258, 1.19604], "nice": false, "zero": false}}
    }
   },
   {
    "data": {"values": [{}]},
    "mark": {"type": "rect", "color": "#000000"},
    "encoding": {
      "x": {"datum": 285.75, "type": "quantitative", "scale": {"domain": [-0.5, 284.5], "nice": false, "zero": false}},
      "x2": {"datum": 297.75},
      "y": {"datum": 1.16846, "type": "quantitative", "scale": {"domain": [1.12258, 1.19604], "nice": false, "zero": false}},
      "y2": {"datum": 1.16684}
    }
   },
   {
    "data": {"values": [{}]},
    "mark": {"type": "text", "text": "1.16767", "color": "#ffffff", "font": "Liberation Sans", "fontSize": 11, "align": "center", "baseline": "middle"},
    "encoding": {
      "x": {"datum": 291.75, "type": "quantitative", "scale": {"domain": [-0.5, 284.5], "nice": false, "zero": false}},
      "y": {"datum": 1.16767, "type": "quantitative", "scale": {"domain": [1.12258, 1.19604], "nice": false, "zero": false}}
    }
   },
   {
    "data": {"values": [{}]},
    "mark": {"type": "text", "text": "▼ EURUSD,H4  1.16822 1.16825 1.16755 1.16767", "color": "#000000", "font": "Liberation Sans", "fontSize": 11, "align": "left", "baseline": "middle", "dx": 3},
    "encoding": {
      "x": {"datum": -0.5, "type": "quantitative", "scale": {"domain": [-0.5, 284.5], "nice": false, "zero": false}},
      "y": {"datum": 1.19483, "type": "quantitative", "scale": {"domain": [1.12258, 1.19604], "nice": false, "zero": false}}
    }
   }
  ]
 },
 {
  "width": 1140,
  "height": 186,
  "layer": [
   {
    "data": {"values": [{}]},
    "mark": {"type": "rect", "color": "#d5ddeb", "opacity": 0.5},
    "encoding": {
      "x": {"datum": 77.5, "type": "quantitative", "title": null, "scale": {"domain": [-0.5, 284.5], "nice": false, "zero": false},
        "axis": {"orient": "bottom", "values": [0, 19, 39, 59, 79, 99, 119, 139, 159, 179, 199, 219], "labelExpr": "['5 Mar 2026','20 Mar 08:00','6 Apr 00:00','20 Apr 16:00','5 May 08:00','20 May 00:00','3 Jun 16:00','18 Jun 08:00','3 Jul 00:00','17 Jul 16:00','3 Aug 08:00','18 Aug 00:00'][round((datum.value + 1) / 20)]", "labelAlign": "left", "labelOffset": -1.5, "labelFontSize": 11.8, "labelPadding": 0, "tickSize": 4, "grid": true, "domain": true, "labelOverlap": false, "labelFlush": false, "labelBound": false, "title": null}},
      "x2": {"datum": 106.25},
      "y": {"datum": 100.9, "type": "quantitative", "title": null, "scale": {"domain": [-1.5, 100.9], "nice": false, "zero": false},
        "axis": {"orient": "right", "values": [4, 20, 80, 96], "labelExpr": "datum.value == 96 ? '100' : datum.value == 4 ? '0' : datum.label", "ticks": false, "labelPadding": 5, "grid": false, "domain": true, "labelOverlap": false, "labelFlush": false, "title": null}},
      "y2": {"datum": 36.5}
    }
   },
   {
    "data": {"values": [{}]},
    "mark": {"type": "rect", "color": "#d5ddeb", "opacity": 0.5},
    "encoding": {
      "x": {"datum": 135.25, "type": "quantitative", "scale": {"domain": [-0.5, 284.5], "nice": false, "zero": false}},
      "x2": {"datum": 192.5},
      "y": {"datum": 100.9, "type": "quantitative", "scale": {"domain": [-1.5, 100.9], "nice": false, "zero": false}},
      "y2": {"datum": 36.5}
    }
   },
   {
    "data": {"values": [{}]},
    "mark": {"type": "point", "shape": "M0,0L55,117L0,117Z", "size": 4, "filled": true, "color": "#d5ddeb", "opacity": 0.5, "strokeWidth": 0},
    "encoding": {
      "x": {"datum": 192.5, "type": "quantitative", "scale": {"domain": [-0.5, 284.5], "nice": false, "zero": false}},
      "y": {"datum": 100.9, "type": "quantitative", "scale": {"domain": [-1.5, 100.9], "nice": false, "zero": false}}
    }
   },
   {
    "data": {"name": "levels"},
    "mark": {"type": "rule", "color": "#a8a8a8", "strokeWidth": 1, "strokeDash": [4, 3]},
    "encoding": {
      "y": {"field": "lvl", "type": "quantitative", "title": null, "scale": {"domain": [-1.5, 100.9], "nice": false, "zero": false}}
    }
   },
   {
    "data": {"values": [{}]},
    "mark": {"type": "rule", "color": "#000000", "strokeWidth": 1},
    "encoding": {
      "y": {"datum": 100.9, "type": "quantitative", "scale": {"domain": [-1.5, 100.9], "nice": false, "zero": false}}
    }
   },
   {
    "data": {"values": [{}]},
    "mark": {"type": "rule", "color": "#5a88d2", "strokeWidth": 1},
    "encoding": {
      "x": {"datum": 32, "type": "quantitative", "scale": {"domain": [-0.5, 284.5], "nice": false, "zero": false}},
      "x2": {"datum": 245.75},
      "y": {"datum": 91.5, "type": "quantitative", "scale": {"domain": [-1.5, 100.9], "nice": false, "zero": false}},
      "y2": {"datum": 87.1}
    }
   },
   {
    "data": {"name": "stochK"},
    "mark": {"type": "line", "color": "#20b39f", "strokeWidth": 1.3},
    "encoding": {
      "x": {"field": "i", "type": "quantitative", "title": null, "scale": {"domain": [-0.5, 284.5], "nice": false, "zero": false}},
      "y": {"field": "v", "type": "quantitative", "title": null, "scale": {"domain": [-1.5, 100.9], "nice": false, "zero": false}}
    }
   },
   {
    "data": {"name": "stochD"},
    "mark": {"type": "line", "color": "#ff1e2a", "strokeWidth": 1.3, "strokeDash": [4, 2]},
    "encoding": {
      "x": {"field": "i", "type": "quantitative", "title": null, "scale": {"domain": [-0.5, 284.5], "nice": false, "zero": false}},
      "y": {"field": "v", "type": "quantitative", "title": null, "scale": {"domain": [-1.5, 100.9], "nice": false, "zero": false}}
    }
   },
   {
    "data": {"values": [{}]},
    "mark": {"type": "text", "text": "Stoch(20,15,15) 84.0169 82.4511", "color": "#000000", "font": "Liberation Sans", "fontSize": 11, "align": "left", "baseline": "middle", "dx": 3},
    "encoding": {
      "x": {"datum": -0.5, "type": "quantitative", "scale": {"domain": [-0.5, 284.5], "nice": false, "zero": false}},
      "y": {"datum": 94.8, "type": "quantitative", "scale": {"domain": [-1.5, 100.9], "nice": false, "zero": false}}
    }
   }
  ]
 }
]
}
